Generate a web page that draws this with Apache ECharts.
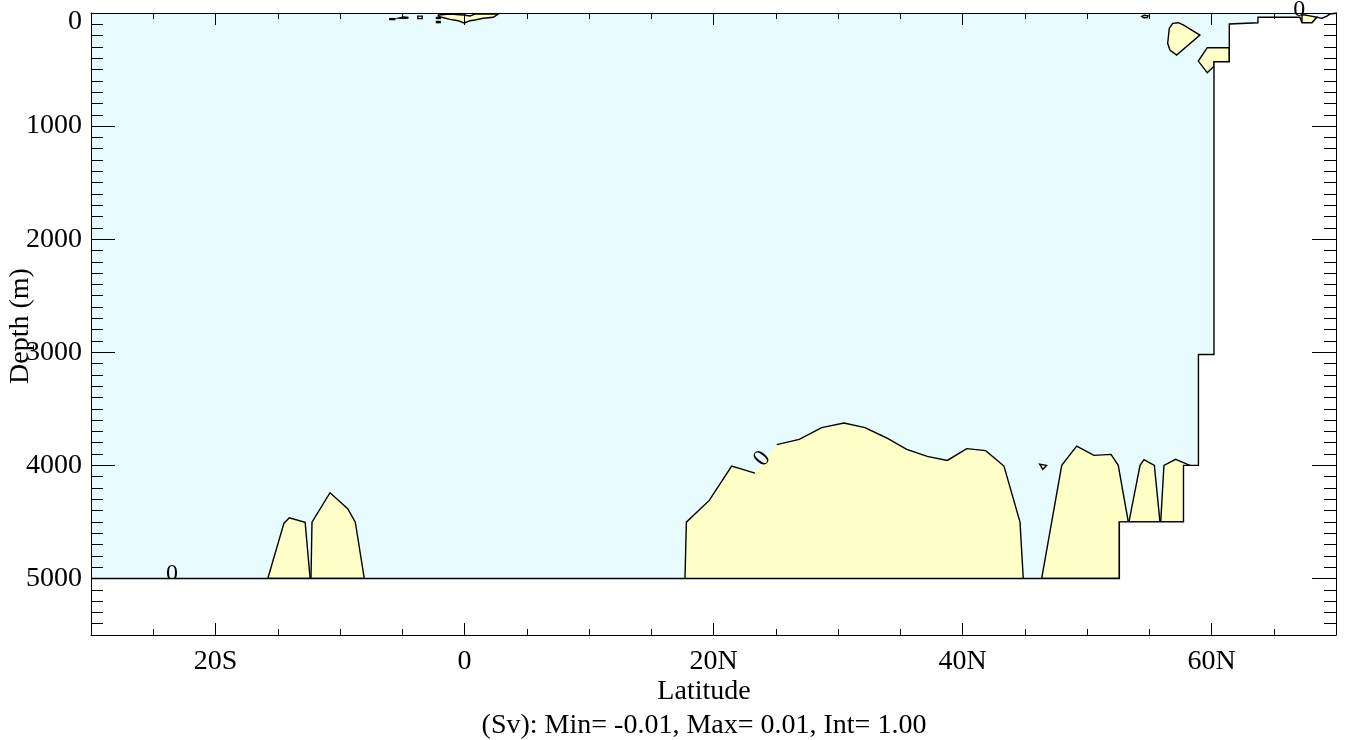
<!DOCTYPE html>
<html>
<head>
<meta charset="utf-8">
<script src="https://cdn.jsdelivr.net/npm/echarts@6/dist/echarts.min.js"></script>
<style>
  html, body { margin: 0; padding: 0; background: #fff; }
  #main { width: 1347px; height: 740px; }
</style>
</head>
<body>
<div id="main"></div>
<script>
// axis ticks
var latTicks = [-20, 0, 20, 40, 60]
var latLabels = ['20S', '0', '20N', '40N', '60N']

// sea floor, land is white below it  [lat, depth]
var seaFloor = [
  [-30, 5000], [52.6, 5000], [52.6, 4500], [57.75, 4500], [57.75, 4000],
  [58.95, 4000], [58.95, 3020], [60.2, 3020], [60.2, 431], [61.43, 431],
  [61.43, 97], [63.73, 86], [63.73, 38], [67.1, 38], [67.27, 86],
  [68.07, 86], [68.47, 38], [68.88, 47], [69.28, 27], [69.52, 9], [70, 3]
]

// zero contour areas (yellow)
var bumpS1 = [[-15.8, 5000], [-14.5, 4511], [-14.07, 4463], [-12.8, 4504], [-12.4, 5000]]
var bumpS2 = [[-12.33, 5000], [-12.25, 4502], [-10.8, 4242], [-9.38, 4383], [-8.77, 4502], [-8.05, 5000]]
var ridgeN = [
  [17.71, 5000], [17.82, 4502], [19.66, 4310], [21.46, 4006], [23.33, 4068],
  [25.08, 3817], [26.89, 3770], [28.69, 3666], [30.48, 3626], [32.17, 3666],
  [33.91, 3758], [35.52, 3858], [37.17, 3920], [38.78, 3956], [40.34, 3852],
  [41.86, 3870], [43.33, 4006], [44.62, 4502], [44.88, 5000]
]
var bumpA = [[46.36, 5000], [47.97, 4000], [49.17, 3829], [50.56, 3912], [51.93, 3903], [52.51, 4000], [53.32, 4502], [52.6, 4502], [52.6, 5000]]
var bumpB = [[53.37, 4500], [54.26, 4000], [54.58, 3950], [55.41, 4000], [55.86, 4500]]
var bumpC = [[55.92, 4500], [56.18, 4000], [57.12, 3947], [58.27, 4000], [58.27, 4500]]
var tinyTri = [[46.2, 3990], [46.75, 4000], [46.45, 4035]]
var blobNE = [[56.61, 135], [56.88, 91], [57.33, 86], [57.73, 106], [59.07, 195], [57.2, 372], [56.66, 327], [56.48, 268]]
var stepNE = [[61.43, 307], [59.66, 307], [58.94, 425], [59.66, 528], [60.22, 469], [60.22, 431], [61.43, 431]]
var ovalNE = [[54.4, 30], [54.6, 20], [54.9, 25], [54.85, 40], [54.55, 42]]
var topNE1 = [[67.27, 18], [67.27, 86], [68.07, 86], [68.47, 38], [67.9, 25], [67.5, 18]]
var topNE2 = [[68.88, 47], [69.28, 27], [69.52, 9], [70, 3], [70, 40], [69.6, 50], [69.3, 40]]
var eqPatch = [
  [-2.1, 18], [-1.17, 9], [-0.1, 18], [0.44, 27], [0.84, 9], [2.72, 9], [2.31, 38],
  [1.51, 47], [0.84, 62], [0.44, 68], [0.04, 86], [-0.1, 86], [-0.5, 68], [-1.17, 56], [-1.83, 38], [-2.1, 27]
]
var dots = [
  [[-6.0, 50], [-5.6, 50], [-5.6, 58], [-6.0, 58]],
  [[-5.3, 45], [-4.9, 36], [-4.55, 38], [-4.55, 44], [-5.0, 47]],
  [[-3.75, 28], [-3.4, 28], [-3.4, 50], [-3.75, 50]],
  [[-2.25, 40], [-1.95, 40], [-1.95, 48], [-2.25, 48]],
  [[-2.25, 75], [-1.95, 75], [-1.95, 85], [-2.25, 85]]
]

// "0" contour labels [lat, depth, rotation]
var zeroLabels = [[-23.5, 4960, 0], [23.92, 3941, 52], [67.05, -25, 0]]

var font = '"Liberation Serif", "DejaVu Serif", serif'
var fsize = 28
var yellow = '#ffffc8'
var cyan = '#e8fcff'

function shape(points, fill, stroke, closed) {
  return {
    type: 'custom',
    coordinateSystem: 'cartesian2d',
    xAxisIndex: 0,
    yAxisIndex: 0,
    silent: true,
    data: points,
    renderItem: function (params, api) {
      if (params.dataIndex !== 0) return null
      var pts = points.map(function (p) { return api.coord(p) })
      return {
        type: closed ? 'polygon' : 'polyline',
        shape: { points: pts },
        style: { fill: closed ? fill : null, stroke: stroke, lineWidth: 1.4 }
      }
    }
  }
}

var series = []
var patches = [bumpS1, bumpS2, bumpA, bumpB, bumpC, tinyTri, blobNE, stepNE, ovalNE, topNE1, topNE2, eqPatch].concat(dots)
patches.forEach(function (p) {
  series.push(shape(p, yellow, '#000', true))
})
// ridge: fill, then outline with a gap for the label
series.push(shape(ridgeN, yellow, null, true))
series.push(shape(ridgeN.slice(0, 5), null, '#000', false))
series.push(shape(ridgeN.slice(5), null, '#000', false))

// labels on the zero contour
series.push({
  type: 'custom',
  coordinateSystem: 'cartesian2d',
  xAxisIndex: 0,
  yAxisIndex: 0,
  silent: true,
  data: zeroLabels,
  renderItem: function (params, api) {
    var c = api.coord([api.value(0), api.value(1)])
    return {
      type: 'text',
      x: c[0],
      y: c[1],
      rotation: api.value(2) * Math.PI / 180,
      style: { text: '0', fontSize: 24, fontFamily: font, fill: '#000', align: 'center', verticalAlign: 'middle' }
    }
  }
})

// land
series.push(shape(seaFloor.concat([[70, 5500], [-30, 5500]]), '#fff', null, true))
series.push(shape(seaFloor, null, '#000', false))

function xAxisOpt(pos, major) {
  var o = {
    type: 'value', position: pos, min: -30, max: 70, z: 10,
    axisLine: { show: major, onZero: false, lineStyle: { color: '#000', width: 1 } },
    splitLine: { show: false },
    axisLabel: { show: false },
    axisTick: { show: true, inside: true, length: 6, lineStyle: { color: '#000' } }
  }
  if (major) {
    o.axisTick = { show: true, inside: true, length: 12, customValues: latTicks, lineStyle: { color: '#000' } }
  } else {
    o.interval = 5
  }
  if (major && pos === 'bottom') {
    o.axisLabel = {
      show: true, customValues: latTicks, margin: 13,
      color: '#000', fontSize: fsize, fontFamily: font,
      formatter: function (v) { return latLabels[latTicks.indexOf(v)] }
    }
  }
  return o
}

function yAxisOpt(pos) {
  return {
    type: 'value', position: pos, inverse: true, min: 0, max: 5500, interval: 1000, z: 10,
    axisLine: { show: true, onZero: false, lineStyle: { color: '#000', width: 1 } },
    splitLine: { show: false },
    axisTick: { show: true, inside: true, length: 24, lineStyle: { color: '#000' } },
    minorTick: { show: true, splitNumber: 10, length: 12, lineStyle: { color: '#000' } },
    axisLabel: {
      show: pos === 'left', margin: 9, color: '#000', fontSize: fsize, fontFamily: font,
      showMaxLabel: false,
      formatter: function (v) { return v === 0 ? '{z|0}' : (v > 5000 ? '' : String(v)) },
      rich: { z: { padding: [17, 0, 0, 0], fontSize: fsize, fontFamily: font, color: '#000' } }
    }
  }
}

var chart = echarts.init(document.getElementById('main'), null, { renderer: 'canvas' })
chart.setOption({
  animation: false,
  backgroundColor: '#fff',
  grid: { left: 91, top: 13, right: 11, bottom: 105, show: true, backgroundColor: cyan, borderWidth: 0 },
  xAxis: [xAxisOpt('bottom', true), xAxisOpt('bottom', false), xAxisOpt('top', true), xAxisOpt('top', false)],
  yAxis: [yAxisOpt('left'), yAxisOpt('right')],
  graphic: [
    { type: 'text', x: 704, y: 692, style: { text: 'Latitude', fontSize: fsize, fontFamily: font, fill: '#000', align: 'center', verticalAlign: 'middle' } },
    { type: 'text', x: 704, y: 726, style: { text: '(Sv): Min= -0.01, Max= 0.01, Int= 1.00', fontSize: fsize, fontFamily: font, fill: '#000', align: 'center', verticalAlign: 'middle' } },
    { type: 'text', x: 21, y: 326, rotation: Math.PI / 2, style: { text: 'Depth (m)', fontSize: fsize, fontFamily: font, fill: '#000', align: 'center', verticalAlign: 'middle' } }
  ],
  series: series
})
</script>
</body>
</html>
